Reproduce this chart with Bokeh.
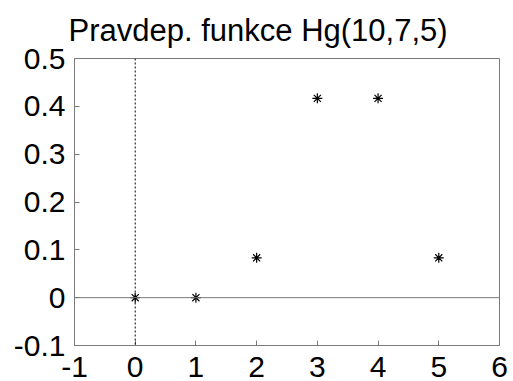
from bokeh.plotting import figure
from bokeh.models import Span, FixedTicker, Range1d
from bokeh.embed import file_html
from bokeh.resources import INLINE

# Hypergeometric pmf Hg(10,7,5)
k_values = [0, 1, 2, 3, 4, 5]
probabilities = [0.0, 0.0, 0.0833, 0.4167, 0.4167, 0.0833]

x_ticks = [-1, 0, 1, 2, 3, 4, 5, 6]
x_tick_labels = ["-1", "0", "1", "2", "3", "4", "5", "6"]
y_ticks = [-0.1, 0.0, 0.1, 0.2, 0.3, 0.4, 0.5]
y_tick_labels = ["-0.1", "0", "0.1", "0.2", "0.3", "0.4", "0.5"]
title_text = "Pravdep. funkce Hg(10,7,5)"

FONT = "Liberation Sans"
GRAY = "#7a7a7a"

p = figure(width=513, height=381, output_backend="svg", toolbar_location=None,
           x_range=Range1d(-1, 6), y_range=Range1d(-0.1, 0.5),
           min_border_left=74, min_border_right=14,
           min_border_top=57, min_border_bottom=36,
           title=title_text)

p.title.text_font = FONT
p.title.text_font_size = "31px"
p.title.text_font_style = "normal"
p.title.text_color = "black"
p.title.align = "left"
p.title.offset = -6
p.title.standoff = 21

p.xgrid.visible = False
p.ygrid.visible = False
p.outline_line_color = GRAY
p.outline_line_width = 1
p.background_fill_color = "white"
p.border_fill_color = "white"

for ax, ticks, labels in ((p.xaxis[0], x_ticks, x_tick_labels),
                          (p.yaxis[0], y_ticks, y_tick_labels)):
    ax.ticker = FixedTicker(ticks=ticks)
    ax.major_label_overrides = dict(zip(ticks, labels))
    ax.minor_tick_line_color = None
    ax.major_tick_in = 5
    ax.major_tick_out = 0
    ax.major_tick_line_color = GRAY
    ax.axis_line_color = GRAY
    ax.major_label_text_font = FONT
    ax.major_label_text_font_size = "30px"
    ax.major_label_text_color = "black"

p.xaxis[0].major_label_standoff = 11
p.yaxis[0].major_label_standoff = 9

# reference lines through the origin
p.add_layout(Span(location=0, dimension="width", line_color=GRAY, line_width=1))
p.add_layout(Span(location=0, dimension="height", line_color="black",
                  line_width=1, line_dash="2 2"))

p.scatter(k_values, probabilities, marker="asterisk", size=10,
          line_color="black", line_width=1.2)

open("out.html", "w").write(file_html(p, INLINE))
